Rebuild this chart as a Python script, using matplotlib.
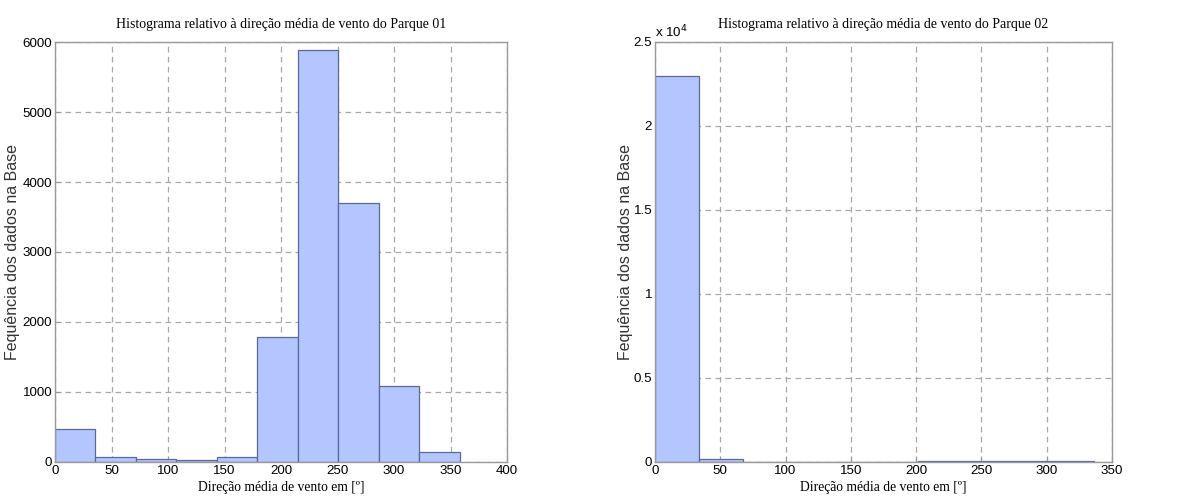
import matplotlib
matplotlib.use("Agg")
import matplotlib.pyplot as plt
import numpy as np

# Parque 01 histogram
p1_edges = [0, 35.8, 71.6, 107.4, 143.2, 179.0, 214.8, 250.6, 286.4, 322.2, 358.0]
p1_counts = [470, 70, 40, 22, 70, 1780, 5890, 3700, 1090, 145]

# Parque 02 histogram
p2_edges = [0, 33.6, 67.2, 100.8, 134.4, 168.0, 201.6, 235.2, 268.8, 302.4, 336.0]
p2_counts = [23000, 150, 25, 25, 25, 0, 30, 30, 30, 30]

titles = ["Histograma relativo à direção média de vento do Parque 01",
          "Histograma relativo à direção média de vento do Parque 02"]
xlabel = "Direção média de vento em [º]"
ylabel = "Fequência dos dados na Base"

p1_xticks = [0, 50, 100, 150, 200, 250, 300, 350, 400]
p1_yticks = [0, 1000, 2000, 3000, 4000, 5000, 6000]
p2_xticks = [0, 50, 100, 150, 200, 250, 300, 350]
p2_yticks = [0, 5000, 10000, 15000, 20000, 25000]
p2_ytick_labels = ["0", "0.5", "1", "1.5", "2", "2.5"]

FACE = "#b3c6ff"
EDGE = "#5a6a96"
AXC = "#9a9a9a"
serif = "Liberation Serif"
sans = "Liberation Sans"
TICK_SIZE = 9.6

fig = plt.figure(figsize=(12.03, 5.01), dpi=100)
ax1 = fig.add_axes([55/1203, 39/501, 452/1203, 420/501])
ax2 = fig.add_axes([655/1203, 39/501, 457/1203, 420/501])

def draw(ax, edges, counts, xticks, yticks, xlim, ylim, title, ylabx, ylabels=None):
    e = np.array(edges)
    ax.bar(e[:-1], counts, width=np.diff(e), align="edge", color=FACE,
           edgecolor=EDGE, linewidth=0.9, zorder=1)
    ax.set_xlim(*xlim)
    ax.set_ylim(*ylim)
    ax.set_xticks(xticks)
    ax.set_yticks(yticks)
    if ylabels is not None:
        ax.set_yticklabels(ylabels)
    ax.grid(True, color="#a8a8a8", linestyle=(0, (4.5, 3.5)), linewidth=0.9, zorder=0)
    ax.set_axisbelow(True)
    for s in ax.spines.values():
        s.set_color(AXC)
        s.set_linewidth(1.0)
    ax.tick_params(direction="in", length=4, color=AXC, labelsize=TICK_SIZE, pad=2)
    for lab in ax.get_xticklabels() + ax.get_yticklabels():
        lab.set_fontfamily(sans)
    ax.set_title(title, fontfamily=serif, fontsize=10, pad=10)
    ax.set_xlabel(xlabel, fontfamily=serif, fontsize=9.8, labelpad=3)
    ax.set_ylabel(ylabel, fontfamily=sans, fontsize=11.5, color="#333333")
    ax.yaxis.set_label_coords(ylabx, 0.5)

draw(ax1, p1_edges, p1_counts, p1_xticks, p1_yticks, (0, 400), (0, 6000), titles[0],
     -0.077)
draw(ax2, p2_edges, p2_counts, p2_xticks, p2_yticks, (0, 350), (0, 25000), titles[1],
     -0.048, p2_ytick_labels)
ax2.text(0.0, 1.004, r"x 10$^4$", transform=ax2.transAxes, fontfamily=sans,
         fontsize=TICK_SIZE, ha="left", va="bottom")

fig.savefig("out.png", dpi=100)
